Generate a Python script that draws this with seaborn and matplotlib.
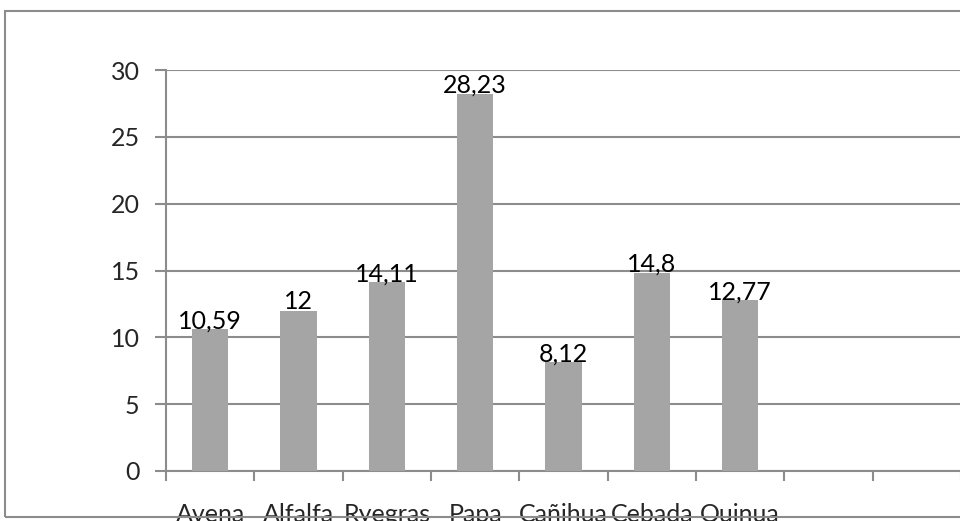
import numpy as np
import pandas as pd
import matplotlib
matplotlib.use("Agg")
import matplotlib.pyplot as plt
import matplotlib.ticker as ticker
from matplotlib.patches import Rectangle
import seaborn as sns

# datos del gráfico
cultivos = ["Avena", "Alfalfa", "Ryegras", "Papa", "Cañihua", "Cebada", "Quinua"]
valores = [10.59, 12, 14.11, 28.23, 8.12, 14.8, 12.77]
huecos = ["", " "]          # dos categorías vacías al final
y_ticks = [0, 5, 10, 15, 20, 25, 30]

sns.set_theme(style="white")
plt.rcParams["font.family"] = ["Lato", "DejaVu Sans"]

GRIS = "#8c8c8c"
BARRA = "#a5a5a5"
FS = 18

df = pd.DataFrame({"cultivo": cultivos, "valor": valores})
orden = cultivos + huecos

fig = plt.figure(figsize=(9.6, 5.21), dpi=100)
ax = fig.add_axes([166 / 960, 1 - 471 / 521, (961 - 166) / 960, (471 - 70) / 521])

sns.barplot(data=df, x="cultivo", y="valor", order=orden, color=BARRA,
            width=0.41, saturation=1, linewidth=0, ax=ax, zorder=3)

etiquetas = [f"{v:g}".replace(".", ",") for v in valores]
ax.bar_label(ax.containers[0], labels=etiquetas, padding=-2, fontsize=FS, color="black")

ax.set_xlim(-0.5, len(orden) - 0.5)
ax.set_ylim(0, 30)
ax.set_yticks(y_ticks)
ax.grid(axis="y", color=GRIS, linewidth=1.5, zorder=0)
ax.set_axisbelow(True)
ax.set_xlabel("")
ax.set_ylabel("")

for s in ["top", "right"]:
    ax.spines[s].set_visible(False)
for s in ["left", "bottom"]:
    ax.spines[s].set_color(GRIS)
    ax.spines[s].set_linewidth(1.5)

ax.xaxis.set_minor_locator(ticker.FixedLocator(np.arange(-0.5, len(orden), 1.0)))
ax.tick_params(axis="x", which="major", length=0, pad=23, labelsize=FS)
ax.tick_params(axis="x", which="minor", length=7.5, width=1.5, color=GRIS, bottom=True)
ax.tick_params(axis="y", length=8, width=1.5, color=GRIS, pad=11, labelsize=FS, left=True)

# marco exterior del gráfico
fig.add_artist(Rectangle((5 / 960, 1 - 517 / 521), 1.0, (517 - 11) / 521,
                         transform=fig.transFigure, fill=False,
                         edgecolor=GRIS, linewidth=1.5, zorder=10))

plt.savefig("out.png", dpi=100)
plt.close()
